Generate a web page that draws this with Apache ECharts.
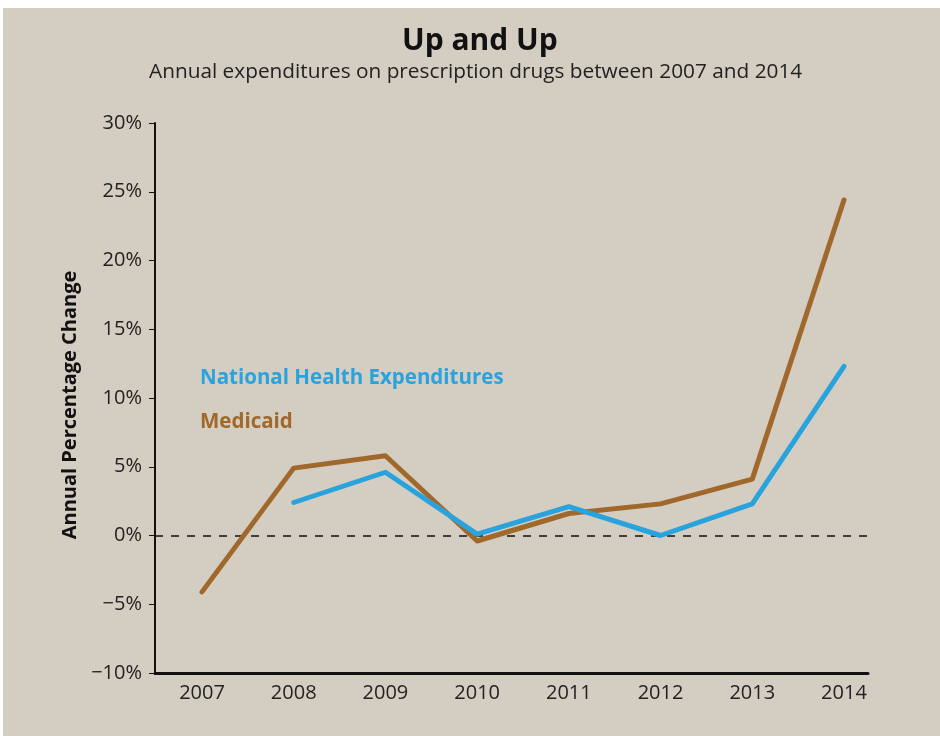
<!DOCTYPE html>
<html>
<head>
<meta charset="utf-8">
<script src="https://cdn.jsdelivr.net/npm/echarts@6/dist/echarts.min.js"></script>
<style>
  html, body { margin: 0; padding: 0; background: #fff; }
  #echart-root {
    position: absolute; left: 3px; top: 8px;
    width: 937px; height: 728px;
    background: #d4cdc2;
  }
</style>
</head>
<body>
<div id="echart-root"></div>
<script>
// data
const years = [2007, 2008, 2009, 2010, 2011, 2012, 2013, 2014];
const nationalHealth = [null, 2.4, 4.6, 0.1, 2.1, 0.0, 2.3, 12.3];
const medicaid = [-4.1, 4.9, 5.8, -0.4, 1.6, 2.3, 4.1, 24.4];

const BLUE = "#28a3de";
const BROWN = "#a0682b";
const FONT = "Open Sans";

function toPairs(values) {
  return years.map((y, i) => [y, values[i]]);
}

const myChart = echarts.init(document.getElementById("echart-root"));

const option = {
  backgroundColor: "#d4cdc2",
  textStyle: { fontFamily: FONT },
  title: [
    {
      text: "Up and Up",
      left: 399,
      top: 18,
      padding: 0,
      textStyle: { fontFamily: FONT, fontSize: 30, fontWeight: "bold", color: "#111" },
    },
    {
      text: "Annual expenditures on prescription drugs between 2007 and 2014",
      left: 146,
      top: 54,
      padding: 0,
      textStyle: { fontFamily: FONT, fontSize: 20.8, fontWeight: "normal", color: "#222" },
    },
  ],
  legend: {
    orient: "vertical",
    left: 187,
    top: 355,
    icon: "none",
    itemWidth: 0,
    itemGap: 23,
    selectedMode: false,
    textStyle: { fontFamily: FONT, fontSize: 20.5, fontWeight: "bold" },
    data: [
      { name: "National Health Expenditures", textStyle: { color: BLUE } },
      { name: "Medicaid", textStyle: { color: BROWN } },
    ],
  },
  grid: { left: 152, right: 72, top: 115, bottom: 63 },
  xAxis: {
    type: "value",
    min: 2006.4875,
    max: 2014.262,
    splitLine: { show: false },
    axisTick: { show: false },
    axisLine: { onZero: false, lineStyle: { color: "#111", width: 3 } },
    axisLabel: {
      customValues: years,
      formatter: (v) => String(v),
      color: "#222",
      fontSize: 20,
      margin: 10,
    },
  },
  yAxis: {
    type: "value",
    min: -10,
    max: 30,
    interval: 5,
    name: "Annual Percentage Change",
    nameLocation: "middle",
    nameGap: 74,
    nameTextStyle: { fontFamily: FONT, fontSize: 20, fontWeight: "bold", color: "#111", padding: [0, 14, 0, 0] },
    splitLine: { show: false },
    axisLine: { show: true, lineStyle: { color: "#111", width: 2 } },
    axisTick: { show: true, length: 6, lineStyle: { color: "#111", width: 1 } },
    axisLabel: {
      color: "#222",
      fontSize: 20,
      margin: 13,
      formatter: (v) => (v < 0 ? "\u2212" + Math.abs(v) : v) + "%",
    },
  },
  series: [
    {
      name: "National Health Expenditures",
      type: "line",
      data: toPairs(nationalHealth),
      showSymbol: false,
      color: BLUE,
      lineStyle: { width: 5, cap: "round", join: "round" },
      z: 3,
      markLine: {
        silent: true,
        symbol: "none",
        label: { show: false },
        lineStyle: { color: "#111", type: [8, 8], width: 1.5 },
        data: [{ yAxis: 0 }],
        z: 1,
      },
    },
    {
      name: "Medicaid",
      type: "line",
      data: toPairs(medicaid),
      showSymbol: false,
      color: BROWN,
      lineStyle: { width: 5, cap: "round", join: "round" },
      z: 2,
    },
  ],
};

myChart.setOption(option);
</script>
</body>
</html>
